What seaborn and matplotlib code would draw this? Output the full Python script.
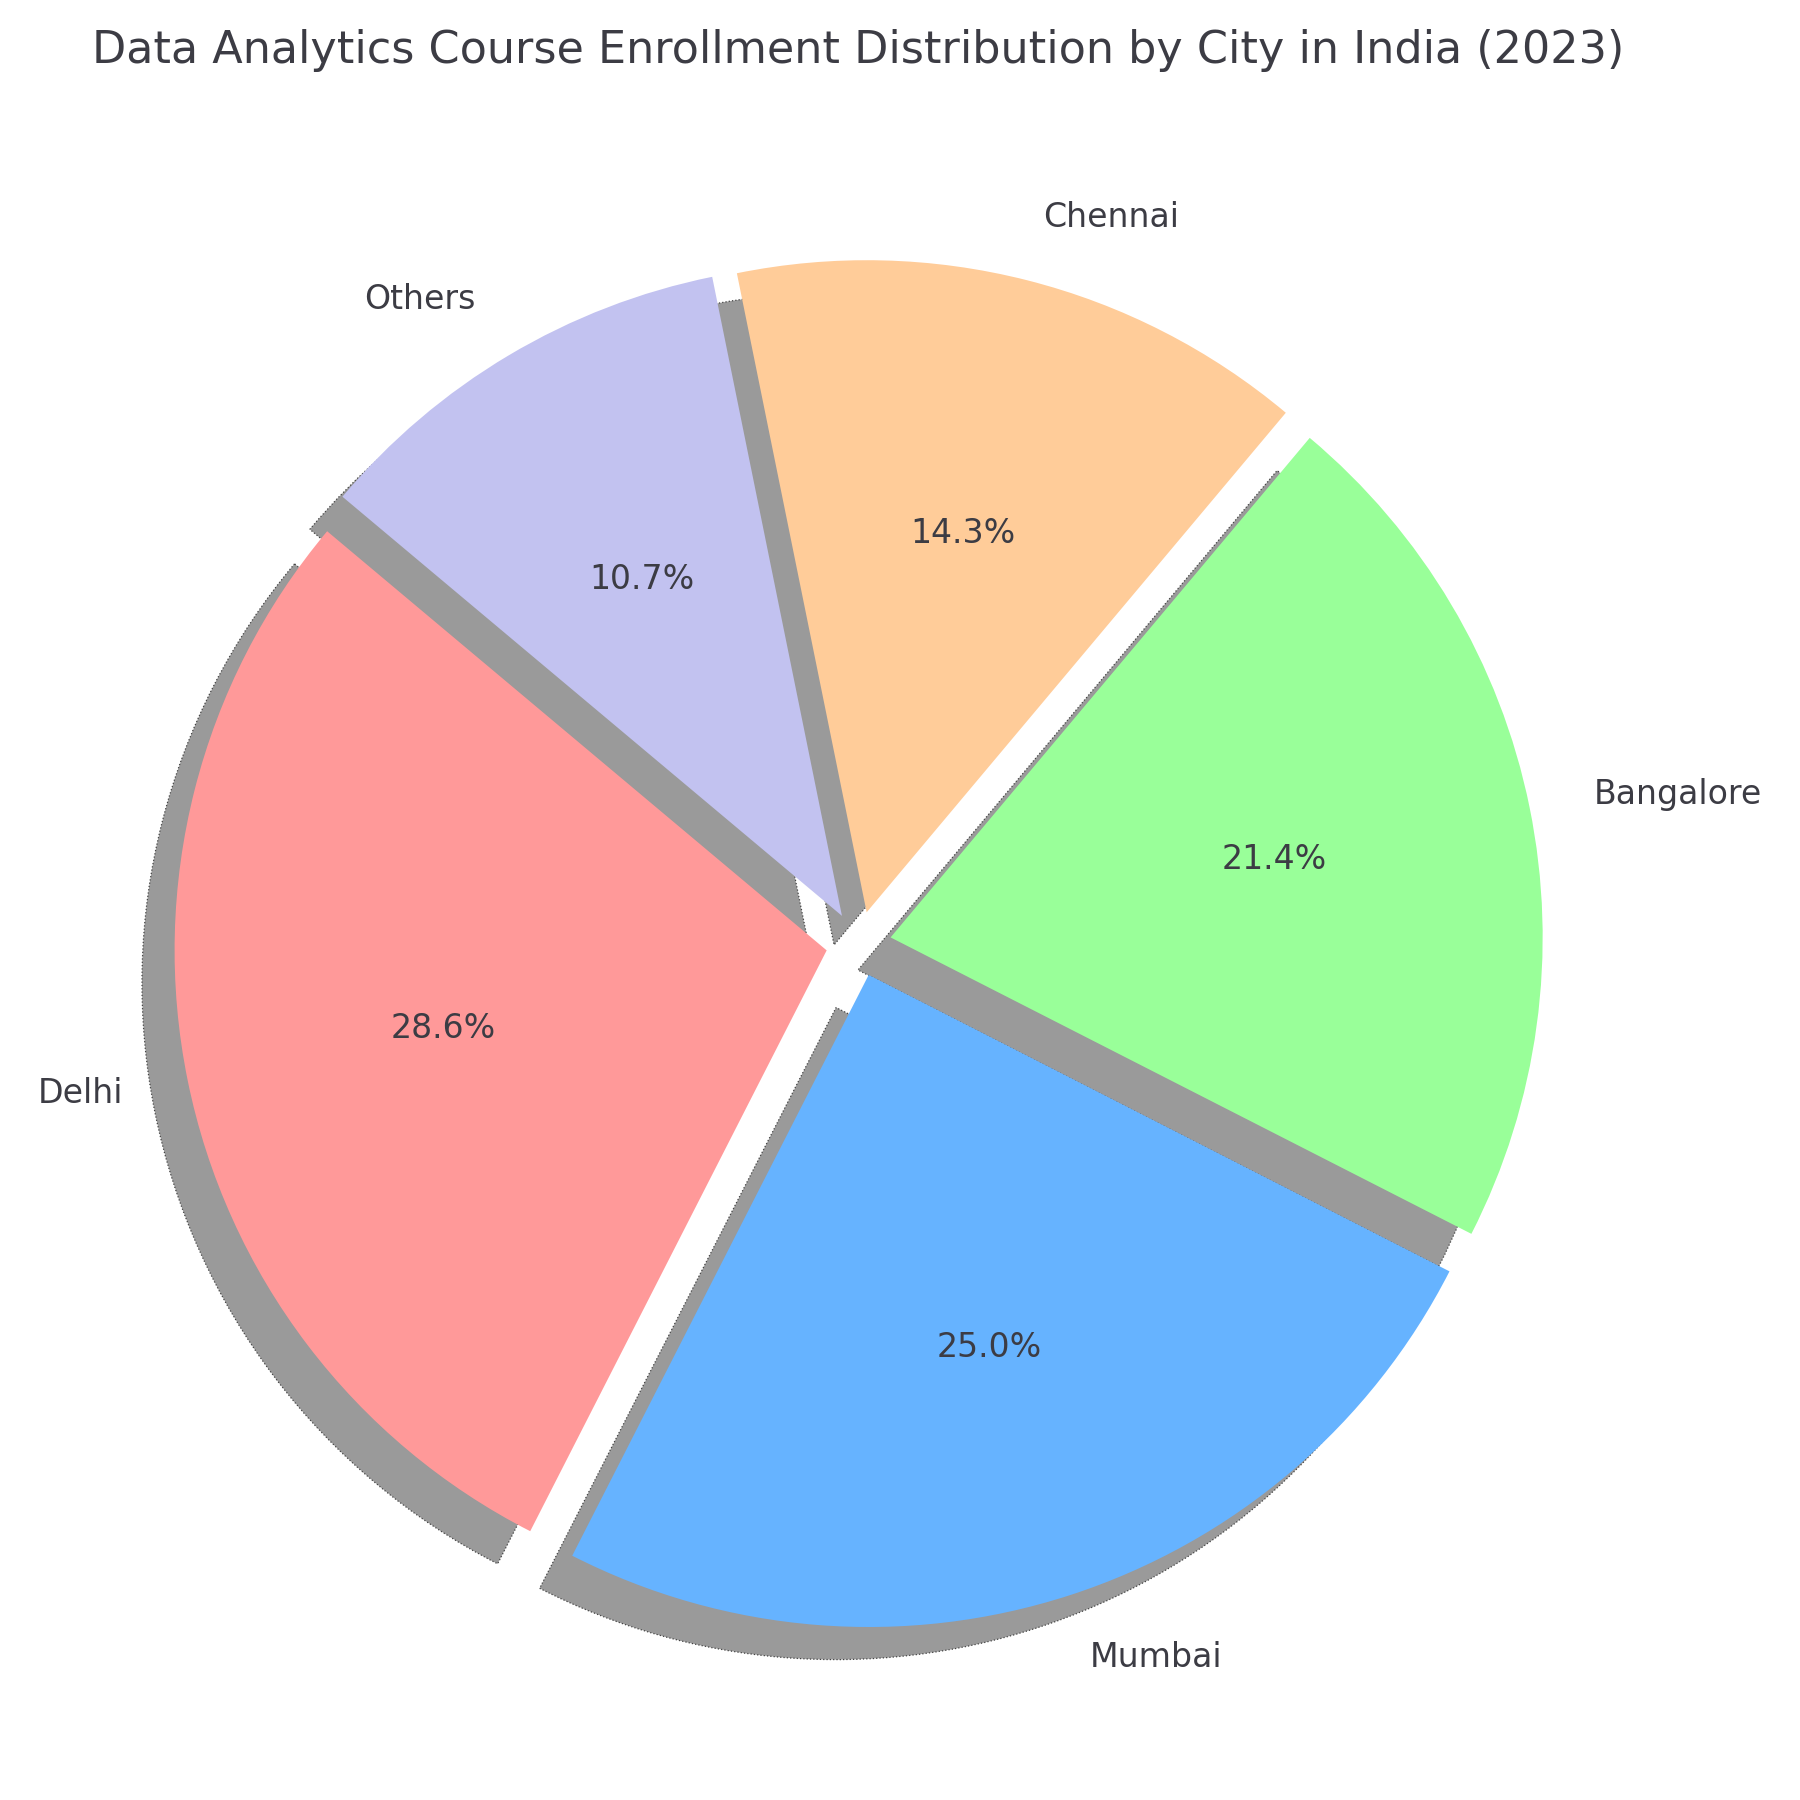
import matplotlib
matplotlib.use("Agg")
import matplotlib.pyplot as plt
import seaborn as sns

# enrollment share by city
cities = ["Delhi", "Mumbai", "Bangalore", "Chennai", "Others"]
enrollments = [28.6, 25.0, 21.4, 14.3, 10.7]
colors = ["#ff9999", "#66b3ff", "#99ff99", "#ffcc99", "#c2c2f0"]
explode = [0.05, 0.05, 0.05, 0.05, 0.05]
title_text = "Data Analytics Course Enrollment Distribution by City in India (2023)"

sns.set_theme(style="white")
plt.rcParams['font.family'] = ['DejaVu Sans']
text_color = "#3c3c44"

fig, ax = plt.subplots(figsize=(10, 10), dpi=180)
wedges, texts, autotexts = ax.pie(
    enrollments, labels=cities, colors=colors, explode=explode,
    autopct="%1.1f%%", startangle=140,
    shadow={"ox": -0.02, "oy": -0.02, "facecolor": "#9a9a9a", "alpha": 1.0,
            "edgecolor": "#444444", "linestyle": ":", "linewidth": 0.5},
    wedgeprops={"linewidth": 0, "edgecolor": "none"},
    textprops={"fontsize": 13.25, "color": text_color},
)
ax.set_title(title_text, fontsize=17.8, color=text_color, pad=4)
ax.axis("equal")
plt.tight_layout()
pos = ax.get_position()
s = 0.994
cx, cy = pos.x0 + pos.width / 2, pos.y0 + pos.height / 2 - 0.012
ax.set_position([cx - pos.width * s / 2, cy - pos.height * s / 2,
                 pos.width * s, pos.height * s])
# re-set the title after lowering the pie so it stays near the top
ax.set_title(title_text, fontsize=17.8, color=text_color, pad=4, y=1.018)
plt.savefig("out.png", dpi=180)
